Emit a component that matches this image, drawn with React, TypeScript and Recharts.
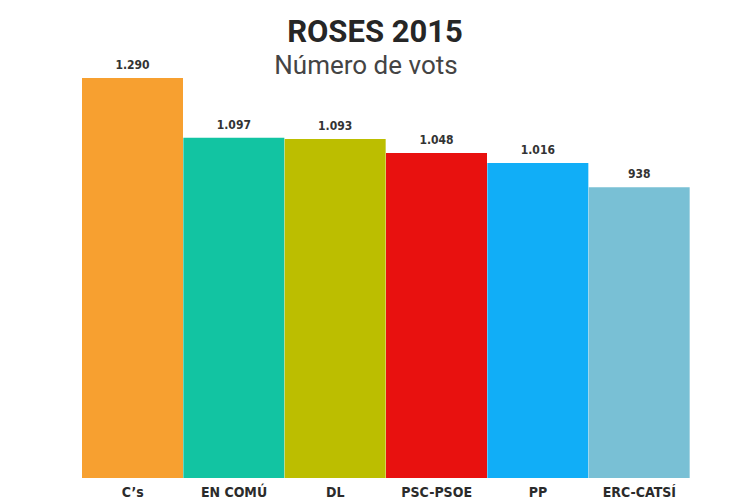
import { BarChart, Bar, XAxis, YAxis, Cell, LabelList } from 'recharts';

const PARTIES = ['C\u2019s', 'EN COMÚ', 'DL', 'PSC-PSOE', 'PP', 'ERC-CATSÍ'];
const VOTES = [1290, 1097, 1093, 1048, 1016, 938];
const COLORS = ['#F7A030', '#12C4A2', '#BCBE00', '#E8110F', '#11AEF7', '#79C0D5'];

const data = PARTIES.map((name, i) => ({ name, votes: VOTES[i] }));

const fmt = (v: number) => String(v).replace(/\B(?=(\d{3})+(?!\d))/g, '.');

const CONDENSED = '"DejaVu Sans", sans-serif';

const Tick = (props: any) => {
  const { x, y, payload } = props;
  return (
    <text
      x={x}
      y={y + 11}
      textAnchor="middle"
      fontFamily={CONDENSED}
      fontStretch="condensed"
      fontWeight="bold"
      fontSize={14}
      fill="#2b2b2b"
    >
      {payload.value}
    </text>
  );
};

const App = () => {
  return (
    <div style={{ position: 'absolute', left: 0, top: 0, width: 753, height: 503, background: '#fff' }}>
      <BarChart
        width={753}
        height={503}
        data={data}
        margin={{ top: 78, right: 63, bottom: 0, left: 82 }}
        barCategoryGap={0}
      >
        <text x={375} y={42} textAnchor="middle" fontFamily="Roboto, sans-serif" fontWeight="bold" fontSize={31} fill="#262626">
          ROSES 2015
        </text>
        <text x={366} y={74} textAnchor="middle" fontFamily="Roboto, sans-serif" fontSize={26} fill="#444">
          Número de vots
        </text>
        <XAxis dataKey="name" axisLine={false} tickLine={false} height={25} tick={<Tick />} interval={0} />
        <YAxis hide domain={[0, 1290]} />
        <Bar dataKey="votes" isAnimationActive={false}>
          {data.map((_, i) => (
            <Cell key={`cell-${i}`} fill={COLORS[i]} />
          ))}
          <LabelList
            dataKey="votes"
            position="top"
            offset={9}
            formatter={(v: any) => fmt(Number(v))}
            style={{ fontFamily: CONDENSED, fontStretch: 'condensed', fontSize: 12, fontWeight: 'bold', fill: '#333' }}
          />
        </Bar>
      </BarChart>
    </div>
  );
};

export default App;
